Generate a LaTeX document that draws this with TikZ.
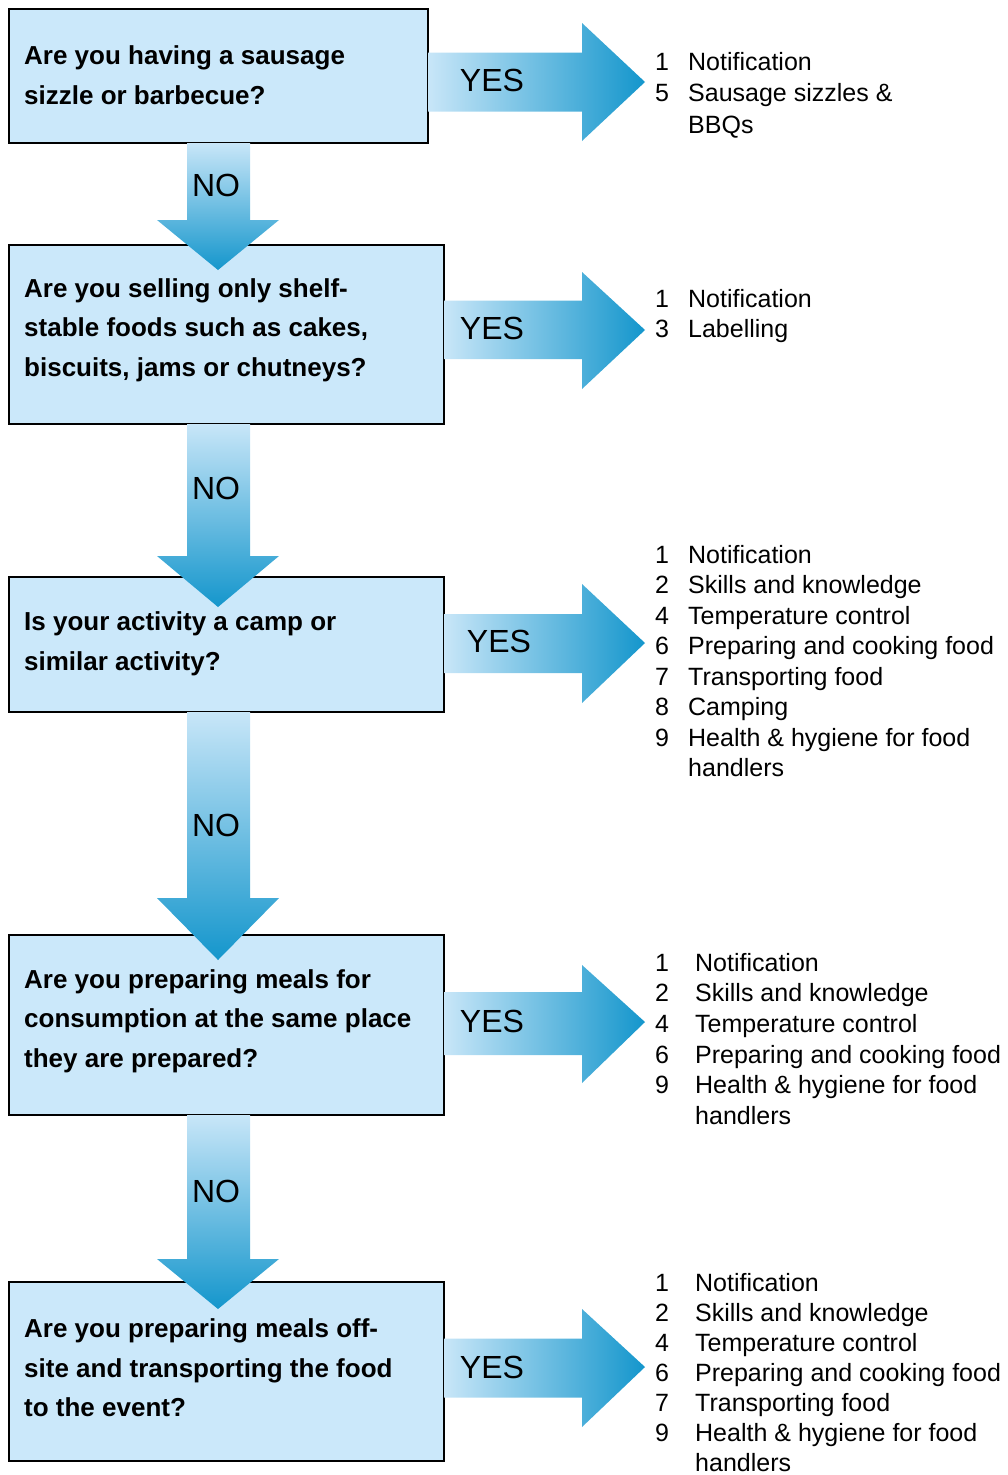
\documentclass[tikz,border=0pt]{standalone}
\usepackage{fontspec}
\setmainfont{Liberation Sans}
\usetikzlibrary{calc}
\definecolor{boxfill}{RGB}{203,232,250}
\definecolor{arlight}{RGB}{200,230,248}
\definecolor{ardark}{RGB}{20,150,204}
\begin{document}
\begin{tikzpicture}[x=1pt,y=-1pt,
  qbox/.style={draw=black, line width=2pt, fill=boxfill, anchor=north west, inner sep=0pt},
  qtext/.style={anchor=west, align=left, font=\bfseries\fontsize{26}{39.5}\selectfont, inner sep=0pt},
  lbl/.style={font=\fontsize{32}{32}\selectfont, inner sep=0pt},
  item/.style={anchor=base west, font=\fontsize{25}{30}\selectfont, inner sep=0pt},
  hshade/.style={left color=arlight, right color=ardark, draw=none},
  vshade/.style={top color=arlight, bottom color=ardark, draw=none}]
\useasboundingbox (0,0) rectangle (1007,1475);

% question boxes
\node[qbox, minimum width=419pt, minimum height=134pt] (q1) at (8,8) {};
\node[qbox, minimum width=435pt, minimum height=179pt] (q2) at (8,244) {};
\node[qbox, minimum width=435pt, minimum height=135pt] (q3) at (8,576) {};
\node[qbox, minimum width=435pt, minimum height=180pt] (q4) at (8,934) {};
\node[qbox, minimum width=435pt, minimum height=179pt] (q5) at (8,1281) {};

% right (YES) arrows
\shade[hshade] (428,52.5) -- (582,52.5) -- (582,23) -- (645,82) -- (582,141) -- (582,111.5) -- (428,111.5) -- cycle;
\shade[hshade] (444,300.5) -- (582,300.5) -- (582,272) -- (645,330) -- (582,389) -- (582,359) -- (444,359) -- cycle;
\shade[hshade] (444,614) -- (582,614) -- (582,584) -- (645,643) -- (582,703) -- (582,673) -- (444,673) -- cycle;
\shade[hshade] (444,992) -- (582,992) -- (582,965) -- (645,1022) -- (582,1083) -- (582,1055) -- (444,1055) -- cycle;
\shade[hshade] (444,1338.5) -- (582,1338.5) -- (582,1309) -- (645,1367) -- (582,1427) -- (582,1397.5) -- (444,1397.5) -- cycle;

% down (NO) arrows
\shade[vshade] (187,143) -- (250,143) -- (250,220) -- (279,220) -- (218,270) -- (157,220) -- (187,220) -- cycle;
\shade[vshade] (187,424) -- (250,424) -- (250,556) -- (279,556) -- (218,607) -- (157,556) -- (187,556) -- cycle;
\shade[vshade] (187,712) -- (250,712) -- (250,898) -- (279,898) -- (218,960) -- (157,898) -- (187,898) -- cycle;
\shade[vshade] (187,1115) -- (250,1115) -- (250,1259) -- (279,1259) -- (218,1309) -- (157,1259) -- (187,1259) -- cycle;

% labels
\node[lbl] (y1) at (492,80) {YES};
\node[lbl] (y2) at (492,328) {YES};
\node[lbl] (y3) at (499,641) {YES};
\node[lbl] (y4) at (492,1021) {YES};
\node[lbl] (y5) at (492,1367) {YES};
\node[lbl] (n1) at (216,185) {NO};
\node[lbl] (n2) at (216,488) {NO};
\node[lbl] (n3) at (216,825) {NO};
\node[lbl] (n4) at (216,1191) {NO};

% question texts
\node[qtext] (t1) at (24,75) {Are you having a sausage\\sizzle or barbecue?};
\node[qtext] (t2) at (24,330) {Are you selling only shelf-\\stable foods such as cakes,\\biscuits, jams or chutneys?};
\node[qtext] (t3) at (24,644) {Is your activity a camp or\\similar activity?};
\node[qtext] (t4) at (24,1021) {Are you preparing meals for\\consumption at the same place\\they are prepared?};
\node[qtext] (t5) at (24,1368) {Are you preparing meals off-\\site and transporting the food\\to the event?};

% answer lists
\foreach \n/\t [count=\i from 0] in {1/Notification,5/Sausage sizzles \&,/BBQs}
  \node[item] (a\i) at (655,{70+\i*31.5}) {\makebox[33pt][l]{\n}\t};
\foreach \n/\t [count=\i from 0] in {1/Notification,3/Labelling}
  \node[item] (b\i) at (655,{307+\i*30.5}) {\makebox[33pt][l]{\n}\t};
\foreach \n/\t [count=\i from 0] in {1/Notification,2/Skills and knowledge,4/Temperature control,6/Preparing and cooking food,7/Transporting food,8/Camping,9/Health \& hygiene for food,/handlers}
  \node[item] (c\i) at (655,{563+\i*30.5}) {\makebox[33pt][l]{\n}\t};
\foreach \n/\t [count=\i from 0] in {1/Notification,2/Skills and knowledge,4/Temperature control,6/Preparing and cooking food,9/Health \& hygiene for food,/handlers}
  \node[item] (d\i) at (655,{971+\i*30.7}) {\makebox[40pt][l]{\n}\t};
\foreach \n/\t [count=\i from 0] in {1/Notification,2/Skills and knowledge,4/Temperature control,6/Preparing and cooking food,7/Transporting food,9/Health \& hygiene for food,/handlers}
  \node[item] (e\i) at (655,{1291+\i*30}) {\makebox[40pt][l]{\n}\t};
\end{tikzpicture}
\end{document}
